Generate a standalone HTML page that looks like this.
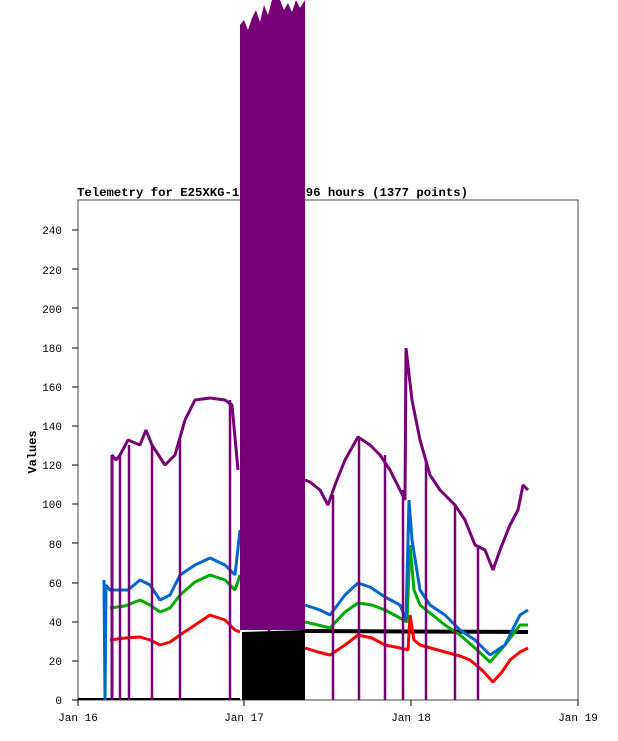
<!DOCTYPE html>
<html><head><style>body{margin:0;background:#fff}svg{display:block}text{font-family:"Liberation Mono","DejaVu Sans Mono",monospace}</style></head><body>
<svg width="618" height="741" viewBox="0 0 618 741" xmlns="http://www.w3.org/2000/svg">
<rect width="618" height="741" fill="#fff"/>
<text x="77" y="196" font-size="12" font-weight="bold" fill="#000" textLength="391" lengthAdjust="spacingAndGlyphs">Telemetry for E25XKG-15 - last 96 hours (1377 points)</text>
<rect x="78" y="200" width="500" height="500" fill="none" stroke="#444" stroke-width="1"/>
<g font-size="11" fill="#000" text-anchor="end" font-family="Liberation Sans,sans-serif">
<text x="62" y="704">0</text><text x="62" y="665">20</text><text x="62" y="626">40</text><text x="62" y="587">60</text><text x="62" y="548">80</text><text x="62" y="508">100</text><text x="62" y="469">120</text><text x="62" y="430">140</text><text x="62" y="391">160</text><text x="62" y="352">180</text><text x="62" y="313">200</text><text x="62" y="274">220</text><text x="62" y="234">240</text>
</g>
<g stroke="#000"><line x1="72" y1="700" x2="78" y2="700"/><line x1="72" y1="661" x2="78" y2="661"/><line x1="72" y1="622" x2="78" y2="622"/><line x1="72" y1="583" x2="78" y2="583"/><line x1="72" y1="543" x2="78" y2="543"/><line x1="72" y1="504" x2="78" y2="504"/><line x1="72" y1="465" x2="78" y2="465"/><line x1="72" y1="426" x2="78" y2="426"/><line x1="72" y1="387" x2="78" y2="387"/><line x1="72" y1="348" x2="78" y2="348"/><line x1="72" y1="308" x2="78" y2="308"/><line x1="72" y1="269" x2="78" y2="269"/><line x1="72" y1="230" x2="78" y2="230"/>
<line x1="78" y1="700" x2="78" y2="706"/><line x1="244" y1="700" x2="244" y2="706"/><line x1="411" y1="700" x2="411" y2="706"/><line x1="578" y1="700" x2="578" y2="706"/></g>
<g font-size="11" text-anchor="middle" font-family="Liberation Sans,sans-serif"><text x="78" y="721">Jan 16</text><text x="244" y="721">Jan 17</text><text x="411" y="721">Jan 18</text><text x="578" y="721">Jan 19</text></g>
<text transform="translate(36,452) rotate(-90)" font-size="12" font-weight="bold" text-anchor="middle">Values</text>
<g fill="none" stroke-width="3" stroke-linejoin="bevel">
<polyline stroke="#000" stroke-width="2" points="78,699 240,699"/>
<polyline stroke="#000" stroke-width="4" points="305,631 528,632"/>
<polyline stroke="#f00" points="110,640 125,638 140,637 150,640 160,645 170,642 180,635 195,625 210,615 225,620 235,630 240,632"/>
<polyline stroke="#f00" points="305,648 318,652 330,655 345,645 358,635 372,638 385,645 400,648 408,650 410,615 414,640 420,645 445,652 460,656 470,660 482,670 493,682 502,672 510,660 520,652 528,648"/>
<polyline stroke="#0a0" points="110,608 125,606 140,600 150,605 160,612 170,608 180,595 195,582 210,575 225,580 235,590 240,575"/>
<polyline stroke="#0a0" points="305,622 318,625 330,628 345,612 358,603 372,605 385,610 400,618 407,622 410,545 414,590 420,605 445,625 460,635 475,648 490,662 505,645 520,625 528,625"/>
<polyline stroke="#06c" points="104,580 105,700 106,585 110,590 120,590 128,590 140,580 150,585 160,600 170,595 180,575 195,565 210,558 225,565 235,575 240,530"/>
<polyline stroke="#06c" points="305,605 320,610 330,615 345,595 358,583 370,587 385,597 400,605 406,620 409,500 412,540 420,590 430,605 445,615 460,630 475,640 490,655 505,645 520,615 528,610"/>
<polyline stroke="#707" points="112,700 112,455 116,460 120,455 128,440 140,445 146,430 152,445 165,465 175,455 185,420 195,400 210,398 225,400 232,405 238,470"/>
<polyline stroke="#707" points="305,480 310,482 320,490 328,505 335,485 345,460 358,437 370,445 380,455 390,470 400,490 405,500 406,348 412,400 420,440 430,475 440,490 455,505 465,520 475,545 485,550 493,570 500,550 510,525 518,510 523,485 528,490"/>
</g>
<g stroke="#707" stroke-width="2.5">
<line x1="120" y1="455" x2="120" y2="700"/><line x1="129" y1="445" x2="129" y2="700"/><line x1="152" y1="445" x2="152" y2="700"/><line x1="180" y1="440" x2="180" y2="700"/><line x1="230" y1="400" x2="230" y2="700"/><line x1="269" y1="480" x2="269" y2="700"/><line x1="333" y1="495" x2="333" y2="700"/><line x1="359" y1="437" x2="359" y2="700"/><line x1="385" y1="455" x2="385" y2="700"/><line x1="403" y1="490" x2="403" y2="700"/><line x1="426" y1="460" x2="426" y2="700"/><line x1="455" y1="505" x2="455" y2="700"/><line x1="478" y1="545" x2="478" y2="700"/>
</g>
<path fill="#707" d="M240,700 L240,25 L244,20 L248,30 L252,18 L256,10 L260,22 L264,5 L268,15 L272,0 L280,0 L284,10 L288,3 L292,12 L296,0 L300,8 L305,0 L305,630 L240,630 Z"/>
<path fill="#000" d="M242,700 L242,632 L305,630 L305,700 Z"/>
</svg>
</body></html>
